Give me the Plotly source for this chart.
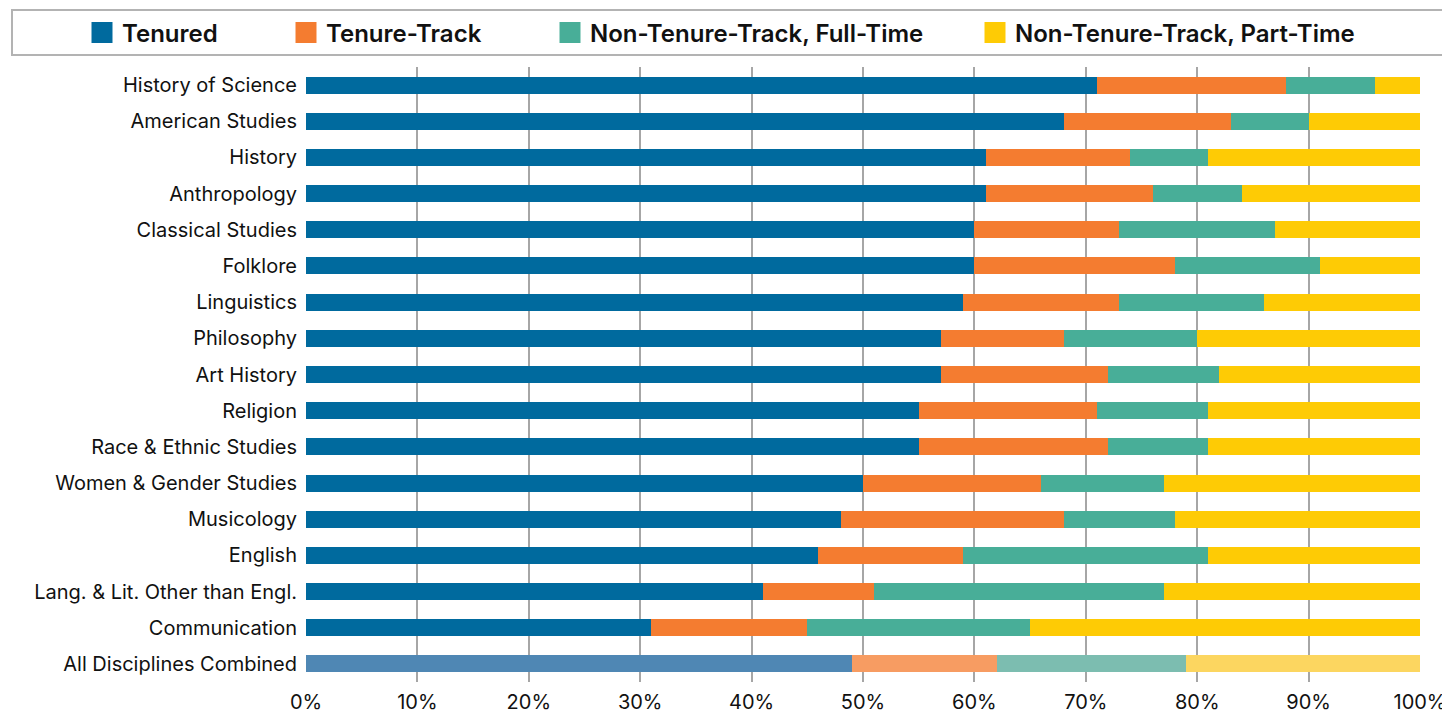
import plotly.graph_objects as go

categories = ["History of Science", "American Studies", "History", "Anthropology",
              "Classical Studies", "Folklore", "Linguistics", "Philosophy", "Art History",
              "Religion", "Race & Ethnic Studies", "Women & Gender Studies", "Musicology",
              "English", "Lang. & Lit. Other than Engl.", "Communication",
              "All Disciplines Combined"]

tenured = [71, 68, 61, 61, 60, 60, 59, 57, 57, 55, 55, 50, 48, 46, 41, 31, 49]
tenure_track = [17, 15, 13, 15, 13, 18, 14, 11, 15, 16, 17, 16, 20, 13, 10, 14, 13]
ntt_full = [8, 7, 7, 8, 14, 13, 13, 12, 10, 10, 9, 11, 10, 22, 26, 20, 17]
ntt_part = [4, 10, 19, 16, 13, 9, 14, 20, 18, 19, 19, 23, 22, 19, 23, 35, 21]

series_names = ["Tenured", "Tenure-Track", "Non-Tenure-Track, Full-Time",
                "Non-Tenure-Track, Part-Time"]
series_values = [tenured, tenure_track, ntt_full, ntt_part]
colors = ["#006a9e", "#f47c30", "#48ae98", "#fecb05"]
light_colors = ["#4f87b4", "#f79c62", "#7cbdb0", "#fcd660"]

tick_vals = [0, 10, 20, 30, 40, 50, 60, 70, 80, 90, 100]
tick_text = [f"{v}%" for v in tick_vals]

FONT = "Inter"
OFF = 8  # page body margin offset of the figure in the browser
W, H = 1450 - OFF, 715 - OFF
# target page-pixel positions of the plot area
PL, PR, PT, PB = 306, 1420, 67, 682
L, T = PL - OFF, PT - OFF
R, B = W - (PR - OFF), H - (PB - OFF)
plot_w = W - L - R
plot_h = H - T - B


def px_to_paper_x(px):
    return (px - PL) / plot_w


def px_to_paper_y(py):
    return (PB - py) / plot_h


fig = go.Figure()
legend_ids = ["legend", "legend2", "legend3", "legend4"]
for i, (name, vals) in enumerate(zip(series_names, series_values)):
    bar_colors = [colors[i]] * (len(categories) - 1) + [light_colors[i]]
    fig.add_trace(go.Bar(
        y=categories, x=vals, name=name, orientation="h",
        marker=dict(color=bar_colors, line=dict(width=0)),
        showlegend=False,
        hovertemplate="%{y}<br>" + name + ": %{x}%<extra></extra>",
    ))
    # legend entry
    fig.add_trace(go.Scatter(
        x=[None], y=[None], mode="markers", name=name,
        marker=dict(symbol="square", size=16, color=colors[i],
                    line=dict(color=colors[i], width=5)),
        legend=legend_ids[i], showlegend=True,
    ))

legend_px = [82, 286, 550, 975]
legend_common = dict(orientation="h", yanchor="middle", xanchor="left",
                     xref="container", yref="container",
                     y=1 - (33 - OFF) / H, bgcolor="rgba(0,0,0,0)", borderwidth=0,
                     font=dict(family=FONT, size=24, color="#111111", weight=600),
                     itemsizing="trace")
legend_layout = {}
for lid, px in zip(legend_ids, legend_px):
    legend_layout[lid] = dict(x=(px - OFF) / W, **legend_common)

fig.update_layout(
    width=W, height=H,
    margin=dict(l=L, r=R, t=T, b=B, pad=0, autoexpand=False),
    barmode="stack", bargap=0.53,
    plot_bgcolor="white", paper_bgcolor="white",
    font=dict(family=FONT, size=20, color="#111111"),
    xaxis=dict(range=[0, 100], tickvals=tick_vals, ticktext=tick_text,
               showgrid=True, gridcolor="#a6a6a6", gridwidth=1.5,
               zeroline=False, showline=False, ticks="", ticklen=0,
               automargin=False, ticklabelstandoff=6,
               tickfont=dict(family=FONT, size=20, color="#111111"),
               fixedrange=True),
    yaxis=dict(categoryorder="array", categoryarray=categories,
               autorange="reversed", showgrid=False, zeroline=False,
               showline=False, ticks="", ticklabelstandoff=8, automargin=False,
               tickfont=dict(family=FONT, size=20, color="#111111")),
    shapes=[dict(type="rect", xref="paper", yref="paper",
                 x0=px_to_paper_x(12), x1=px_to_paper_x(1447),
                 y0=px_to_paper_y(55), y1=px_to_paper_y(10),
                 line=dict(color="#b3b3b3", width=2), fillcolor="rgba(0,0,0,0)",
                 layer="below")],
    **legend_layout,
)

fig.write_html("out.html")
